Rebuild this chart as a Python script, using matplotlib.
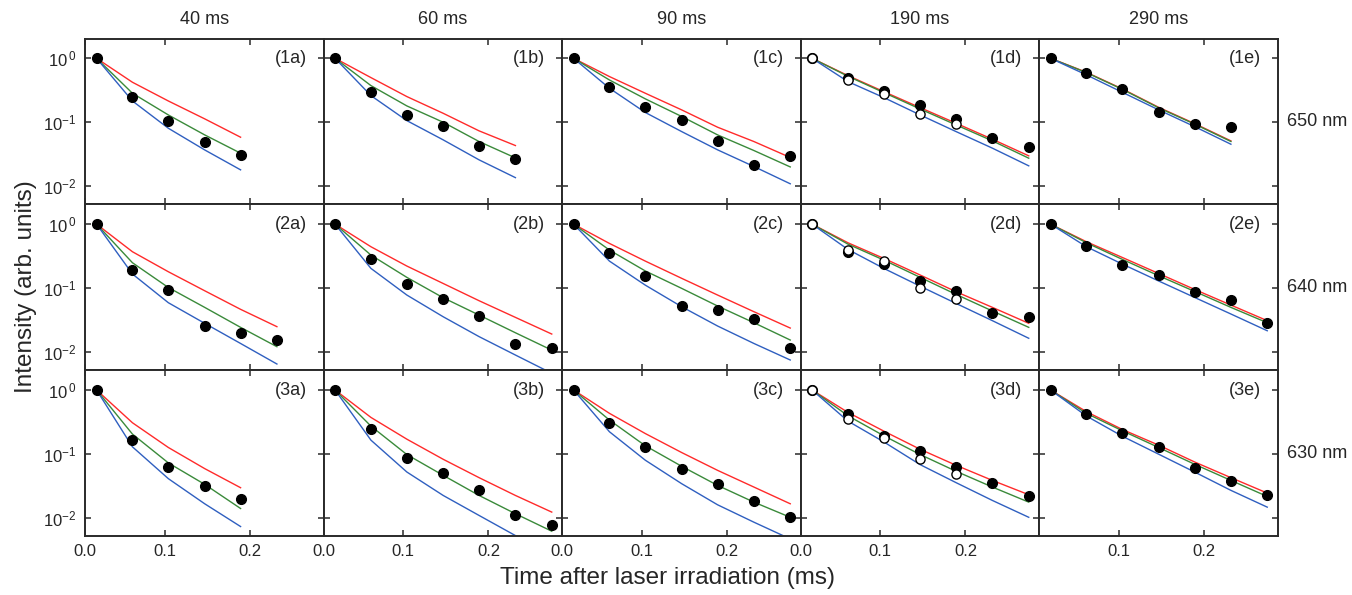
import matplotlib
matplotlib.use("Agg")
import matplotlib.pyplot as plt
from matplotlib.ticker import NullLocator, FixedLocator, NullFormatter

plt.rcParams['font.family'] = ['Liberation Sans', 'DejaVu Sans']
plt.rcParams['mathtext.fontset'] = 'custom'
plt.rcParams['mathtext.rm'] = 'Liberation Sans'
plt.rcParams['mathtext.it'] = 'Liberation Sans'

# ---------------- data ----------------
times = [0.0205, 0.0625, 0.1045, 0.147, 0.189, 0.2315, 0.274]
col_titles = ["40 ms", "60 ms", "90 ms", "190 ms", "290 ms"]
row_titles = ["650 nm", "640 nm", "630 nm"]
panel_ids = [["(1a)", "(1b)", "(1c)", "(1d)", "(1e)"],
             ["(2a)", "(2b)", "(2c)", "(2d)", "(2e)"],
             ["(3a)", "(3b)", "(3c)", "(3d)", "(3e)"]]

# measured (filled) points
pts_1a = [1.0, 0.246, 0.105, 0.0486, 0.0305]
pts_1b = [1.0, 0.298, 0.130, 0.0877, 0.0427, 0.0270]
pts_1c = [1.0, 0.360, 0.171, 0.107, 0.0505, 0.0215, 0.0298]
pts_1d = [1.0, 0.487, 0.309, 0.187, 0.113, 0.0562, 0.0412]
pts_1e = [1.0, 0.590, 0.336, 0.147, 0.0953, 0.0855]
pts_2a = [1.0, 0.191, 0.0931, 0.0258, 0.0200, 0.0154]
pts_2b = [1.0, 0.287, 0.117, 0.0681, 0.0361, 0.0132, 0.0115]
pts_2c = [1.0, 0.356, 0.154, 0.0518, 0.0458, 0.0332, 0.0115]
pts_2d = [1.0, 0.370, 0.234, 0.130, 0.0908, 0.0402, 0.0356]
pts_2e = [1.0, 0.453, 0.232, 0.161, 0.0866, 0.0649, 0.0281]
pts_3a = [1.0, 0.164, 0.0625, 0.0318, 0.0199]
pts_3b = [1.0, 0.244, 0.0865, 0.0509, 0.0269, 0.0111, 0.00759]
pts_3c = [1.0, 0.299, 0.126, 0.0581, 0.0334, 0.0183, 0.0102]
pts_3d = [1.0, 0.415, 0.192, 0.113, 0.0618, 0.0355, 0.0222]
pts_3e = [1.0, 0.420, 0.214, 0.129, 0.0610, 0.0377, 0.0224]

# open points (190 ms column)
open_1d = [1.0, 0.465, 0.281, 0.133, 0.0931]
open_2d = [1.0, 0.393, 0.261, 0.102, 0.0673]
open_3d = [1.0, 0.351, 0.178, 0.0824, 0.0480]

# model curves: red, green, blue
red_1a = [1.0, 0.422, 0.215, 0.113, 0.0583]
green_1a = [1.0, 0.284, 0.130, 0.0634, 0.0328]
blue_1a = [1.0, 0.215, 0.0805, 0.0369, 0.0180]
red_1b = [1.0, 0.499, 0.252, 0.138, 0.0733, 0.0432]
green_1b = [1.0, 0.374, 0.180, 0.100, 0.0499, 0.0277]
blue_1b = [1.0, 0.261, 0.106, 0.0530, 0.0258, 0.0136]
red_1c = [1.0, 0.518, 0.284, 0.156, 0.0836, 0.0499, 0.0281]
green_1c = [1.0, 0.458, 0.232, 0.123, 0.0634, 0.0361, 0.0200]
blue_1c = [1.0, 0.340, 0.142, 0.0714, 0.0370, 0.0203, 0.0109]
red_1d = [1.0, 0.536, 0.301, 0.169, 0.0964, 0.0542, 0.0298]
green_1d = [1.0, 0.524, 0.291, 0.161, 0.0908, 0.0511, 0.0274]
blue_1d = [1.0, 0.432, 0.243, 0.130, 0.0714, 0.0393, 0.0208]
red_1e = [1.0, 0.604, 0.332, 0.171, 0.0953, 0.0511]
green_1e = [1.0, 0.597, 0.327, 0.168, 0.0935, 0.0500]
blue_1e = [1.0, 0.550, 0.294, 0.156, 0.0855, 0.0453]

red_2a = [1.0, 0.370, 0.180, 0.0908, 0.0465, 0.0249]
green_2a = [1.0, 0.249, 0.102, 0.0499, 0.0243, 0.0121]
blue_2a = [1.0, 0.166, 0.0590, 0.0281, 0.0136, 0.00649]
red_2b = [1.0, 0.443, 0.221, 0.118, 0.0634, 0.0348, 0.0191]
green_2b = [1.0, 0.328, 0.147, 0.0706, 0.0378, 0.0200, 0.0107]
blue_2b = [1.0, 0.203, 0.0778, 0.0356, 0.0174, 0.00897, 0.00465]
red_2c = [1.0, 0.499, 0.264, 0.142, 0.0778, 0.0427, 0.0237]
green_2c = [1.0, 0.393, 0.185, 0.0989, 0.0524, 0.0287, 0.0154]
blue_2c = [1.0, 0.264, 0.111, 0.0511, 0.0255, 0.0136, 0.00750]
red_2d = [1.0, 0.511, 0.291, 0.160, 0.0877, 0.0499, 0.0281]
green_2d = [1.0, 0.487, 0.274, 0.147, 0.0796, 0.0438, 0.0243]
blue_2d = [1.0, 0.402, 0.203, 0.107, 0.0575, 0.0309, 0.0164]
red_2e = [1.0, 0.530, 0.301, 0.169, 0.0953, 0.0542, 0.0309]
green_2e = [1.0, 0.511, 0.281, 0.156, 0.0887, 0.0499, 0.0287]
blue_2e = [1.0, 0.443, 0.237, 0.129, 0.0714, 0.0393, 0.0215]

red_3a = [1.0, 0.307, 0.126, 0.0589, 0.0296]
green_3a = [1.0, 0.204, 0.0723, 0.0334, 0.0140]
blue_3a = [1.0, 0.129, 0.0410, 0.0166, 0.00731]
red_3b = [1.0, 0.372, 0.170, 0.0824, 0.0425, 0.0224, 0.0123]
green_3b = [1.0, 0.272, 0.0977, 0.0462, 0.0224, 0.0116, 0.00618]
blue_3b = [1.0, 0.164, 0.0521, 0.0224, 0.0109, 0.00528, 0.00272]
red_3c = [1.0, 0.431, 0.208, 0.105, 0.0553, 0.0303, 0.0166]
green_3c = [1.0, 0.338, 0.134, 0.0640, 0.0322, 0.0176, 0.0102]
blue_3c = [1.0, 0.222, 0.0796, 0.0342, 0.0160, 0.00855, 0.00468]
red_3d = [1.0, 0.446, 0.227, 0.118, 0.0664, 0.0385, 0.0230]
green_3d = [1.0, 0.395, 0.192, 0.0977, 0.0535, 0.0303, 0.0176]
blue_3d = [1.0, 0.326, 0.154, 0.0679, 0.0355, 0.0187, 0.0102]
red_3e = [1.0, 0.457, 0.241, 0.137, 0.0748, 0.0425, 0.0244]
green_3e = [1.0, 0.430, 0.230, 0.126, 0.0689, 0.0385, 0.0216]
blue_3e = [1.0, 0.391, 0.189, 0.0989, 0.0521, 0.0269, 0.0147]

points = [[pts_1a, pts_1b, pts_1c, pts_1d, pts_1e],
          [pts_2a, pts_2b, pts_2c, pts_2d, pts_2e],
          [pts_3a, pts_3b, pts_3c, pts_3d, pts_3e]]
open_points = {(0, 3): open_1d, (1, 3): open_2d, (2, 3): open_3d}
reds = [[red_1a, red_1b, red_1c, red_1d, red_1e],
        [red_2a, red_2b, red_2c, red_2d, red_2e],
        [red_3a, red_3b, red_3c, red_3d, red_3e]]
greens = [[green_1a, green_1b, green_1c, green_1d, green_1e],
          [green_2a, green_2b, green_2c, green_2d, green_2e],
          [green_3a, green_3b, green_3c, green_3d, green_3e]]
blues = [[blue_1a, blue_1b, blue_1c, blue_1d, blue_1e],
         [blue_2a, blue_2b, blue_2c, blue_2d, blue_2e],
         [blue_3a, blue_3b, blue_3c, blue_3d, blue_3e]]

RED = '#ff2a2a'
GREEN = '#3a8a3a'
BLUE = '#2f5fc0'
FRAME = '#2a2a2a'
TXT = '#262626'

fig = plt.figure(figsize=(13.52, 5.95), dpi=100)
gs = fig.add_gridspec(3, 5, left=85/1352, right=1277.5/1352,
                      top=1-38.5/595, bottom=1-536/595, wspace=0, hspace=0)

XMIN, XMAX = 0.007, 0.286
for r in range(3):
    for c in range(5):
        ax = fig.add_subplot(gs[r, c])
        ax.set_yscale('log')
        ax.set_xlim(XMIN, XMAX)
        ax.set_ylim(0.0052, 2.04)
        n_line = len(reds[r][c])
        ax.plot(times[:n_line], reds[r][c], color=RED, lw=1.0, zorder=2)
        ax.plot(times[:n_line], greens[r][c], color=GREEN, lw=1.0, zorder=2.1)
        ax.plot(times[:n_line], blues[r][c], color=BLUE, lw=1.0, zorder=2.2)
        n_pt = len(points[r][c])
        ax.plot(times[:n_pt], points[r][c], 'o', color='black', ms=7.0,
                mec='black', zorder=3)
        if (r, c) in open_points:
            op = open_points[(r, c)]
            ax.plot(times[:len(op)], op, 'o', mfc='white', mec='black',
                    mew=1.0, ms=6.6, zorder=4)
        ax.text(0.93, 0.88, panel_ids[r][c], transform=ax.transAxes,
                ha='right', va='center', fontsize=13, color=TXT)

        for s in ax.spines.values():
            s.set_color(FRAME)
            s.set_linewidth(1.4)
        ax.yaxis.set_major_locator(FixedLocator([1, 0.1, 0.01]))
        ax.yaxis.set_minor_locator(NullLocator())
        ax.xaxis.set_minor_locator(NullLocator())
        if c < 4:
            ax.set_xticks([XMIN, 0.1, 0.2])
            xl = ['0.0', '0.1', '0.2']
        else:
            ax.set_xticks([0.1, 0.2])
            xl = ['0.1', '0.2']
        ax.tick_params(which='both', direction='in', top=True, right=True,
                       length=4, width=1.1, color=FRAME, labelsize=12,
                       labelcolor=TXT, pad=6)
        if r == 2:
            ax.set_xticklabels(xl)
        else:
            ax.xaxis.set_major_formatter(NullFormatter())
        if c == 0:
            ax.set_yticklabels([r'$10^{\,0}$', r'$10^{-1}$', r'$10^{-2}$'])
        else:
            ax.yaxis.set_major_formatter(NullFormatter())
        if r == 0:
            ax.text(0.5, 1.0 + 18.5/165.5, col_titles[c], transform=ax.transAxes,
                    ha='center', va='center', fontsize=13, color=TXT)
        if c == 4:
            ax.text(1.04, 0.5, row_titles[r], transform=ax.transAxes,
                    ha='left', va='center', fontsize=13, color=TXT)

fig.text(26/1352, 1 - 287/595, 'Intensity (arb. units)', rotation=90,
         ha='center', va='center', fontsize=17.5, color=TXT)
fig.text(668/1352, 1 - 578/595, 'Time after laser irradiation (ms)',
         ha='center', va='center', fontsize=17.5, color=TXT)

fig.savefig('out.png', dpi=100)
